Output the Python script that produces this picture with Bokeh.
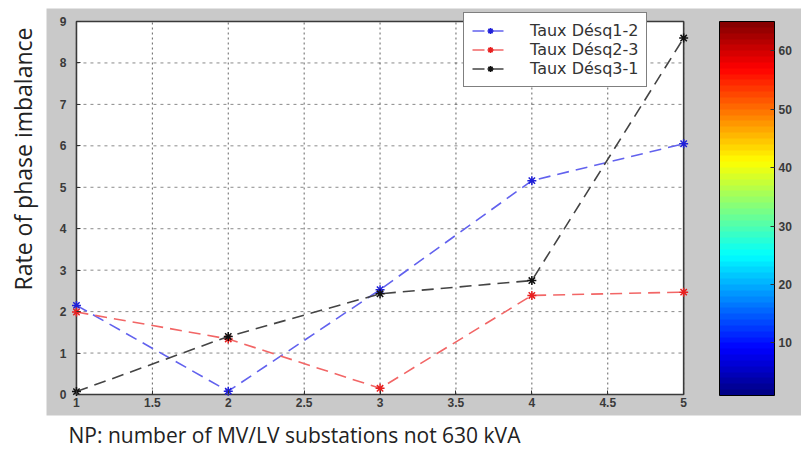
import numpy as np
from bokeh.plotting import figure
from bokeh.models import (Range1d, LinearAxis, FixedTicker, Title, Legend, LegendItem,
                          ColorBar, LinearColorMapper, NumeralTickFormatter)
from bokeh.embed import file_html
from bokeh.resources import INLINE

# ---------------- data ----------------
np_values = [1, 2, 3, 4, 5]
taux_desq12 = [2.15, 0.08, 2.53, 5.16, 6.05]
taux_desq23 = [1.99, 1.34, 0.15, 2.39, 2.47]
taux_desq31 = [0.07, 1.40, 2.43, 2.75, 8.60]
series_names = ["Taux Désq1-2", "Taux Désq2-3", "Taux Désq3-1"]
x_ticks = [1, 1.5, 2, 2.5, 3, 3.5, 4, 4.5, 5]
y_ticks = [0, 1, 2, 3, 4, 5, 6, 7, 8, 9]
cbar_ticks = [10, 20, 30, 40, 50, 60]
cbar_low, cbar_high = 1, 65
y_label = "Rate of phase imbalance"
x_label = "NP: number of MV/LV substations not 630 kVA"

# ---------------- layout (pixels) ----------------
W, H = 801, 452
panel_l, panel_t, panel_r, panel_b = 45, 8, 801, 415
ax_l, ax_t, ax_r, ax_b = 75, 21, 683, 394
x0, x1 = x_ticks[0], x_ticks[-1]
y0, y1 = y_ticks[0], y_ticks[-1]
sx = (ax_r - ax_l) / (x1 - x0)
sy = (ax_b - ax_t) / (y1 - y0)
xr = Range1d(x0 - (ax_l - panel_l) / sx, x1 + (panel_r - ax_r) / sx)
yr = Range1d(y0 - (panel_b - ax_b) / sy, y1 + (ax_t - panel_t) / sy)

p = figure(width=W, height=H, x_range=xr, y_range=yr, output_backend="svg",
           toolbar_location=None, x_axis_location=None, y_axis_location=None,
           min_border_left=panel_l, min_border_right=W - panel_r,
           min_border_top=panel_t, min_border_bottom=H - panel_b,
           background_fill_color="#c9c9c9", border_fill_color="white",
           outline_line_color=None)
p.grid.visible = False

# white axes area
p.quad(left=[x0], right=[x1], bottom=[y0], top=[y1], fill_color="white",
       line_color=None, level="image")

# dotted grid
grid_color = "#3c3c3c"
p.segment(x0=x_ticks, y0=[y0] * len(x_ticks), x1=x_ticks, y1=[y1] * len(x_ticks),
          line_color=grid_color, line_width=1, line_dash="2 3", line_alpha=0.8)
p.segment(x0=[x0] * len(y_ticks), y0=y_ticks, x1=[x1] * len(y_ticks), y1=y_ticks,
          line_color=grid_color, line_width=1, line_dash="3 4", line_alpha=0.6)

# box
p.quad(left=[x0], right=[x1], bottom=[y0], top=[y1], fill_color=None,
       line_color="#3a3a3a", line_width=1.6)

# axes
tick_font = "Liberation Sans"
xaxis = LinearAxis(fixed_location=y0, ticker=FixedTicker(ticks=x_ticks),
                   formatter=NumeralTickFormatter(format="0.[0]"))
yaxis = LinearAxis(fixed_location=x0, ticker=FixedTicker(ticks=y_ticks))
for ax in (xaxis, yaxis):
    ax.axis_line_color = None
    ax.major_tick_in = 4
    ax.major_tick_out = 0
    ax.minor_tick_line_color = None
    ax.major_tick_line_color = "#333333"
    ax.major_label_text_font = tick_font
    ax.major_label_text_font_style = "bold"
    ax.major_label_text_font_size = "12px"
    ax.major_label_text_color = "#3a3a3a"
xaxis.major_label_standoff = 3
yaxis.major_label_standoff = 10
p.add_layout(xaxis, "below")
p.add_layout(yaxis, "left")

# series
series = [taux_desq12, taux_desq23, taux_desq31]
line_colors = ["#6262ee", "#f26666", "#444444"]
marker_colors = ["#2020d8", "#e82020", "#111111"]
items = []
for vals, lc, mc, name in zip(series, line_colors, marker_colors, series_names):
    r1 = p.line(np_values, vals, line_color=lc, line_width=1.6, line_dash="12 7")
    r2 = p.scatter(np_values, vals, marker="asterisk", size=9, line_color=mc,
                   line_width=1.5)
    items.append(LegendItem(label=name, renderers=[r1, r2]))

legend = Legend(items=items, location=(462 - panel_l, panel_b - 87),
                border_line_color="black", border_line_width=1,
                background_fill_color="white", background_fill_alpha=1,
                label_text_font="DejaVu Sans", label_text_font_size="16px",
                label_text_color="#333333",
                glyph_width=36, glyph_height=15, label_height=15, spacing=0,
                padding=8, label_standoff=22, margin=0)
p.add_layout(legend)

# jet colormap
n = 64
t = (np.arange(n) + 0.5) / n
def _c(v):
    return np.clip(1.5 - np.abs(4 * t - v), 0, 1)
r, g, b = _c(3), _c(2), _c(1)
jet = ["#%02x%02x%02x" % (int(a * 255), int(bb * 255), int(c * 255)) for a, bb, c in zip(r, g, b)]
mapper = LinearColorMapper(palette=jet, low=cbar_low, high=cbar_high)
cb = ColorBar(color_mapper=mapper, ticker=FixedTicker(ticks=cbar_ticks),
              width=55, height=374, location=(718 - panel_l, panel_b - 395),
              padding=0, margin=0, bar_line_color="black", bar_line_width=1,
              major_tick_in=4, major_tick_out=0, major_tick_line_color="#333333",
              major_label_text_font=tick_font, major_label_text_font_style="bold",
              major_label_text_font_size="12px", major_label_text_color="#3a3a3a",
              label_standoff=4, background_fill_alpha=0, border_line_color=None)
p.add_layout(cb)

# axis titles (outside the grey panel)
p.add_layout(Title(text=y_label, align="left", offset=125, vertical_align="top",
                   text_font="Open Sans", text_font_size="23px", text_font_style="normal",
                   text_color="#222222", standoff=12), "left")
p.add_layout(Title(text=x_label, align="left", offset=67 - panel_l, text_font="Open Sans",
                   text_font_size="21px", text_font_style="normal",
                   text_color="#222222", standoff=6), "below")

open("out.html", "w").write(file_html(p, INLINE))
